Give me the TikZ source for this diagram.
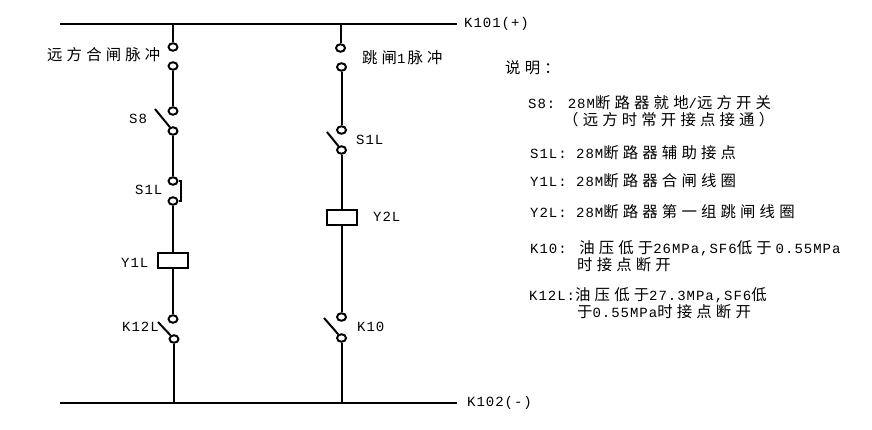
\documentclass[tikz,border=0pt]{standalone}
\usepackage{fontspec}
\setmainfont[LetterSpace=7]{Liberation Mono}
\newfontfamily\cjkfont[Scale=1.1,LetterSpace=27]{Noto Sans CJK SC}
\newcommand{\cn}[1]{{\cjkfont #1}}
\usetikzlibrary{shapes.geometric}
\tikzset{
  wire/.style={line width=2pt},
  contact/.style={draw, ellipse, line width=2pt, fill=white, minimum width=9pt, minimum height=7.5pt, inner sep=0pt},
  coil/.style={draw, line width=2pt, minimum width=30pt, minimum height=15pt, inner sep=0pt},
  lbl/.style={anchor=west, inner sep=0pt, font=\fontsize{14}{15}\selectfont}
}

\begin{document}
\begin{tikzpicture}[x=1pt,y=-1pt]
    \useasboundingbox (0,0) rectangle (872,429);

    \coordinate (topl) at (60,24);
    \coordinate (topr) at (457,24);
    \coordinate (botl) at (60,403);
    \coordinate (botr) at (457,403);
    \coordinate (topa) at (173,24);
    \coordinate (topb) at (340.5,24);
    \coordinate (bota) at (174,403);
    \coordinate (botb) at (341.5,403);
    \draw[wire] (topl) -- (topr);
    \draw[wire] (botl) -- (botr);

    \node[contact] (a1) at (173,47) {};
    \node[contact] (a2) at (173,66) {};
    \node[contact] (a3) at (173,111) {};
    \node[contact] (a4) at (173,131) {};
    \node[contact] (a5) at (173,181) {};
    \node[contact] (a6) at (173,201) {};
    \node[coil] (y1l) at (173,260) {};
    \node[contact] (a7) at (173,319) {};
    \node[contact] (a8) at (174,339) {};
    \coordinate (s8end) at (155,109);
    \coordinate (k12end) at (158,322);

    \draw[wire] (topa) -- (a1);
    \draw[wire] (a2) -- (a3);
    \draw[wire] (a4) -- (a5);
    \draw[wire] (a6) -- (y1l);
    \draw[wire] (y1l) -- (a7);
    \draw[wire] (a8) -- (bota);
    \draw[wire] (a4) -- (s8end);
    \draw[wire] (a8) -- (k12end);
    \draw[wire] (a5.east) -- ++(2.5,0) |- (a6.east);

    \node[contact] (b1) at (340.5,48) {};
    \node[contact] (b2) at (341.5,67) {};
    \node[contact] (b3) at (341.5,130) {};
    \node[contact] (b4) at (341.5,150) {};
    \node[coil] (y2l) at (341.5,217) {};
    \node[contact] (b5) at (341.5,317) {};
    \node[contact] (b6) at (341.5,338) {};
    \coordinate (s1end) at (327,132);
    \coordinate (k10end) at (324,318);

    \draw[wire] (topb) -- (b1);
    \draw[wire] (b2) -- (b3);
    \draw[wire] (b4) -- (y2l);
    \draw[wire] (y2l) -- (b5);
    \draw[wire] (b6) -- (botb);
    \draw[wire] (b4) -- (s1end);
    \draw[wire] (b6) -- (k10end);

    \node[lbl] (pos) at (464,24) {K101(+)};
    \node[lbl] (neg) at (467,403) {K102(-)};
    \node[lbl] (closepulse) at (47,55) {\cn{远方合闸脉冲}};
    \node[lbl] (trippulse) at (362,58) {\cn{跳闸}1\kern2pt\cn{脉冲}};
    \node[lbl] (ls8) at (129,119) {S8};
    \node[lbl] (ls1a) at (135,190) {S1L};
    \node[lbl] (ly1) at (121,263) {Y1L};
    \node[lbl] (lk12) at (122,327) {K12L};
    \node[lbl] (ls1b) at (356,140) {S1L};
    \node[lbl] (ly2) at (373,217) {Y2L};
    \node[lbl] (lk10) at (357,327) {K10};

    \node[lbl] (title) at (505,68) {\cn{说明：}};
    \node[lbl] (n1) at (528,103) {S8: 28M\cn{断路器就地}/\cn{远方开关}};
    \node[lbl] (n1b) at (563,120) {\cn{（远方时常开接点接通）}};
    \node[lbl] (n2) at (530,153) {S1L: 28M\cn{断路器辅助接点}};
    \node[lbl] (n3) at (530,181) {Y1L: 28M\cn{断路器合闸线圈}};
    \node[lbl] (n4) at (530,212) {Y2L: 28M\cn{断路器第一组跳闸线圈}};
    \node[lbl] (n5) at (530,248) {K10: \cn{油压低于}26MPa,SF6\cn{低于}\kern4pt 0.55MPa};
    \node[lbl] (n5b) at (577,265) {\cn{时接点断开}};
    \node[lbl] (n6) at (529,295) {K12L:\cn{油压低于}27.3MPa,SF6\cn{低}};
    \node[lbl] (n6b) at (577,312) {\cn{于}0.55MPa\cn{时接点断开}};
\end{tikzpicture}
\end{document}
